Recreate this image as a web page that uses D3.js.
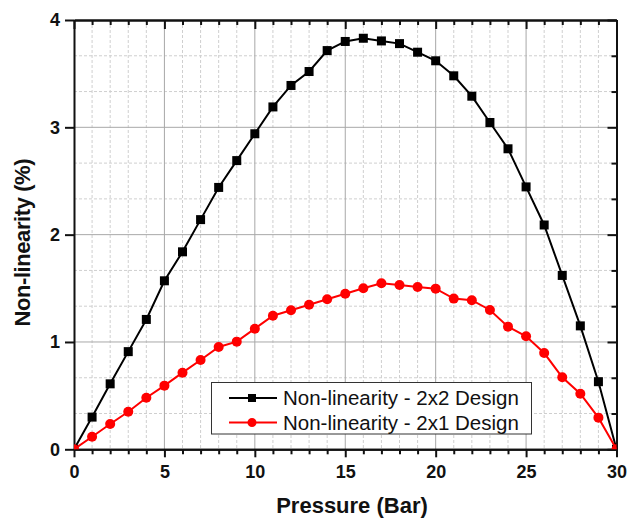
<!DOCTYPE html>
<html>
<head>
<meta charset="utf-8">
<script src="https://cdn.jsdelivr.net/npm/d3@7"></script>
<style>
  html, body { margin: 0; padding: 0; background: #fff; }
  svg { display: block; font-family: "Liberation Sans", Arial, sans-serif; }
</style>
</head>
<body>
<svg id="chart" width="627" height="520"></svg>
<script>
// Pressure steps (Bar)
const pressure = d3.range(0, 31);
// Non-linearity (%) of the 2x2 design
const design2x2 = [0, 0.30, 0.61, 0.91, 1.21, 1.57, 1.84, 2.14, 2.44, 2.69, 2.94,
  3.19, 3.39, 3.52, 3.715, 3.80, 3.83, 3.805, 3.78, 3.70, 3.62,
  3.48, 3.29, 3.045, 2.80, 2.445, 2.09, 1.62, 1.15, 0.63, 0];
// Non-linearity (%) of the 2x1 design
const design2x1 = [0, 0.117, 0.236, 0.35, 0.48, 0.593, 0.714, 0.832, 0.953, 1.003, 1.124,
  1.245, 1.295, 1.347, 1.398, 1.45, 1.50, 1.547, 1.531, 1.513, 1.497,
  1.404, 1.389, 1.298, 1.143, 1.053, 0.897, 0.671, 0.518, 0.295, 0];
const seriesNames = ["Non-linearity - 2x2 Design", "Non-linearity - 2x1 Design"];
const xTicks = [0, 5, 10, 15, 20, 25, 30];
const yTicks = [0, 1, 2, 3, 4];

const svg = d3.select("#chart");
const plotLeft = 74, plotRight = 616.5, plotTop = 20, plotBottom = 449.3;

const x = d3.scaleLinear().domain([0, 30]).range([plotLeft, plotRight]);
const y = d3.scaleLinear().domain([0, 4]).range([plotBottom, plotTop]);

const xMinor = d3.range(0, 31, 1).filter(v => v % 5 !== 0);
const yMinor = d3.range(0, 12).map(i => i / 3).filter((v, i) => i % 3 !== 0);

// grid
const grid = svg.append("g");
grid.selectAll(".gx-minor").data(xMinor).join("line")
  .attr("x1", d => x(d)).attr("x2", d => x(d)).attr("y1", plotTop).attr("y2", plotBottom)
  .attr("stroke", "#cfcfcf").attr("stroke-width", 1).attr("stroke-dasharray", "3,2");
grid.selectAll(".gy-minor").data(yMinor).join("line")
  .attr("y1", d => y(d)).attr("y2", d => y(d)).attr("x1", plotLeft).attr("x2", plotRight)
  .attr("stroke", "#cfcfcf").attr("stroke-width", 1).attr("stroke-dasharray", "3,2");
grid.selectAll(".gx-major").data(xTicks.slice(1, -1)).join("line")
  .attr("x1", d => x(d)).attr("x2", d => x(d)).attr("y1", plotTop).attr("y2", plotBottom)
  .attr("stroke", "#a8a8a8").attr("stroke-width", 1);
grid.selectAll(".gy-major").data(yTicks.slice(1, -1)).join("line")
  .attr("y1", d => y(d)).attr("y2", d => y(d)).attr("x1", plotLeft).attr("x2", plotRight)
  .attr("stroke", "#a8a8a8").attr("stroke-width", 1);

// axes
function styleAxis(g) {
  g.selectAll(".domain").attr("stroke", "#111").attr("stroke-width", 2);
  g.selectAll(".tick line").attr("stroke", "#111").attr("stroke-width", 2);
  g.selectAll("text").attr("fill", "#111").attr("font-size", 18).attr("font-weight", "bold")
    .attr("font-family", '"Liberation Sans", Arial, sans-serif');
}

// bottom: outward ticks
svg.append("g").attr("transform", `translate(0,${plotBottom})`)
  .call(d3.axisBottom(x).tickValues(xMinor).tickSize(5).tickSizeOuter(0).tickFormat(""))
  .call(styleAxis);
svg.append("g").attr("transform", `translate(0,${plotBottom})`)
  .call(d3.axisBottom(x).tickValues(xTicks).tickSize(8).tickSizeOuter(0).tickPadding(8).tickFormat(d3.format("d")))
  .call(styleAxis);
// top: inward ticks
svg.append("g").attr("transform", `translate(0,${plotTop})`)
  .call(d3.axisBottom(x).tickValues(xMinor).tickSize(5).tickSizeOuter(0).tickFormat(""))
  .call(styleAxis);
svg.append("g").attr("transform", `translate(0,${plotTop})`)
  .call(d3.axisBottom(x).tickValues(xTicks).tickSize(9).tickSizeOuter(0).tickFormat(""))
  .call(styleAxis);
// left: outward major ticks
svg.append("g").attr("transform", `translate(${plotLeft},0)`)
  .call(d3.axisLeft(y).tickValues(yTicks).tickSize(9).tickSizeOuter(0).tickPadding(5).tickFormat(d3.format("d")))
  .call(styleAxis);
// right: inward ticks
svg.append("g").attr("transform", `translate(${plotRight},0)`)
  .call(d3.axisRight(y).tickValues(yMinor).tickSize(-5).tickSizeOuter(0).tickFormat(""))
  .call(styleAxis);
svg.append("g").attr("transform", `translate(${plotRight},0)`)
  .call(d3.axisRight(y).tickValues(yTicks).tickSize(-9).tickSizeOuter(0).tickFormat(""))
  .call(styleAxis);

// axis titles
svg.append("text")
  .attr("x", 352).attr("y", 513).attr("text-anchor", "middle")
  .attr("font-size", 22).attr("font-weight", "bold").attr("fill", "#111")
  .text("Pressure (Bar)");
svg.append("text")
  .attr("transform", "translate(30,242.5) rotate(-90)").attr("text-anchor", "middle")
  .attr("font-size", 22).attr("font-weight", "bold").attr("fill", "#111")
  .attr("textLength", 168).attr("lengthAdjust", "spacing")
  .text("Non-linearity (%)");

// data
svg.append("clipPath").attr("id", "plot-clip")
  .append("rect").attr("x", plotLeft).attr("y", plotTop - 10)
  .attr("width", plotRight - plotLeft).attr("height", plotBottom - plotTop + 10);

const plot = svg.append("g").attr("clip-path", "url(#plot-clip)");
const line = d3.line().x((d, i) => x(pressure[i])).y(d => y(d));

plot.append("path").datum(design2x2).attr("d", line)
  .attr("fill", "none").attr("stroke", "#000").attr("stroke-width", 2);
plot.selectAll(".sq").data(design2x2).join("rect")
  .attr("x", (d, i) => x(pressure[i]) - 4.5).attr("y", d => y(d) - 4.5)
  .attr("width", 9).attr("height", 9).attr("fill", "#000");

plot.append("path").datum(design2x1).attr("d", line)
  .attr("fill", "none").attr("stroke", "#ff0000").attr("stroke-width", 2);
plot.selectAll(".ci").data(design2x1).join("circle")
  .attr("cx", (d, i) => x(pressure[i])).attr("cy", d => y(d))
  .attr("r", 5).attr("fill", "#ff0000");

// legend
const lg = svg.append("g");
lg.append("rect").attr("x", 211.5).attr("y", 382.5).attr("width", 320).attr("height", 51.5)
  .attr("fill", "#fff").attr("stroke", "#333").attr("stroke-width", 1);
const rows = [
  { name: seriesNames[0], color: "#000", shape: "square", cy: 398 },
  { name: seriesNames[1], color: "#ff0000", shape: "circle", cy: 422.5 }
];
rows.forEach(r => {
  lg.append("line").attr("x1", 229).attr("x2", 277).attr("y1", r.cy).attr("y2", r.cy)
    .attr("stroke", r.color).attr("stroke-width", 2);
  if (r.shape === "square") {
    lg.append("rect").attr("x", 252 - 4).attr("y", r.cy - 4).attr("width", 8).attr("height", 8)
      .attr("fill", r.color);
  } else {
    lg.append("circle").attr("cx", 252).attr("cy", r.cy).attr("r", 4.5).attr("fill", r.color);
  }
  lg.append("text").attr("x", 283).attr("y", r.cy + 7).attr("font-size", 20.5)
    .attr("fill", "#111").text(r.name);
});
</script>
</body>
</html>
